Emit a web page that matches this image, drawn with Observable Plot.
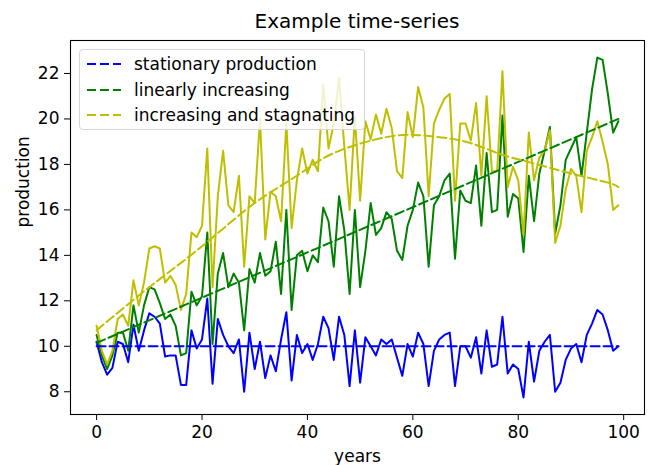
<!DOCTYPE html>
<html>
<head>
<meta charset="utf-8">
<script src="https://cdn.jsdelivr.net/npm/d3@7"></script>
<script src="https://cdn.jsdelivr.net/npm/@observablehq/plot@0.6"></script>
<style>
  body { margin: 0; background: #fff; font-family: "DejaVu Sans", sans-serif; }
  #wrap { position: relative; width: 650px; height: 465px; overflow: hidden; background: #fff; }
  #title { position: absolute; top: 9px; left: 70px; width: 574px; text-align: center; font-size: 20px; color: #000; line-height: 24px; }
  #legend { position: absolute; left: 79px; top: 49px; width: 284px; height: 79px; border: 1px solid #d6d6d6; border-radius: 4px; background: rgba(255,255,255,0.8); }
  .entry { position: absolute; left: 0; height: 20px; font-size: 17px; line-height: 20px; color: #000; white-space: nowrap; }
  .entry svg { position: absolute; left: 6px; top: 0; }
  .entry span { position: absolute; left: 54px; top: 0; }
</style>
</head>
<body>
<div id="wrap"><div id="title">Example time-series</div></div>
<script>
// ---- data ----
const seriesNames = ["stationary production", "linearly increasing", "increasing and stagnating"];
const seriesColors = ["#0000ff", "#008000", "#bfbf00"];

const stationary = [
  10.2, 9.3, 8.75, 9.05, 10.2, 10.1, 9.3, 10.95, 9.8, 10.7,
  11.45, 11.3, 11.0, 9.55, 9.6, 9.6, 8.3, 8.3, 10.7, 9.9,
  10.3, 12.1, 8.35, 11.2, 10.5, 10.0, 9.7, 10.3, 8.0, 10.6,
  9.0, 10.2, 8.6, 9.6, 8.9, 10.3, 11.5, 8.5, 10.5, 9.7,
  10.1, 9.4, 10.1, 11.3, 10.8, 9.4, 11.3, 10.5, 8.25, 10.7,
  8.4, 10.4, 10.0, 9.6, 10.3, 10.1, 10.3, 9.5, 8.7, 10.1,
  9.55, 10.6, 10.1, 8.25, 9.8, 10.3, 10.5, 10.6, 8.25, 10.0,
  10.0, 9.5, 10.4, 8.8, 10.7, 9.1, 9.2, 11.3, 8.8, 9.2,
  9.0, 7.75, 10.2, 8.45, 9.8, 10.2, 10.5, 8.0, 8.4, 9.4,
  9.9, 10.1, 9.3, 10.5, 11.0, 11.6, 11.4, 10.7, 9.8, 10.0
];
const linear = [
  10.5, 9.6, 9.0, 9.6, 10.6, 10.6, 9.8, 11.8, 10.6, 11.8,
  12.6, 12.5, 11.9, 11.2, 11.4, 10.9, 9.6, 9.7, 12.4, 11.8,
  12.2, 15.0, 10.1, 13.2, 14.1, 12.6, 13.2, 12.8, 10.7, 13.4,
  12.8, 14.1, 13.1, 13.3, 14.6, 12.3, 16.0, 11.6, 14.0, 14.2,
  13.3, 14.0, 13.7, 16.1, 15.5, 13.5, 16.6, 15.1, 12.3, 16.0,
  12.6, 14.2, 16.3, 14.9, 15.2, 15.9, 15.6, 14.2, 13.8, 15.3,
  16.0, 17.2, 16.6, 13.5, 16.2, 16.6, 17.3, 17.6, 13.85, 16.85,
  16.4, 16.3, 17.95, 15.3, 18.5, 15.9, 16.0, 20.15, 15.7, 16.7,
  16.5, 14.15, 17.5, 15.5, 17.6, 18.6, 19.65, 14.95, 16.2, 18.2,
  18.7, 19.2, 17.5, 19.4, 21.3, 22.7, 22.6, 21.1, 19.4, 19.9
];
const stagnating = [
  10.9, 9.8, 9.2, 9.8, 11.2, 11.4, 10.9, 12.9, 11.8, 12.8,
  14.3, 14.4, 14.3, 12.8, 13.1, 12.7, 11.6, 12.3, 15.0, 14.8,
  15.3, 18.7, 12.6, 16.6, 18.6, 16.2, 15.9, 17.5, 13.5, 16.6,
  16.3, 20.0, 14.7, 16.8, 16.6, 15.5, 19.8, 15.2, 17.3, 18.7,
  17.6, 18.2, 17.7, 21.5, 18.7, 19.8, 21.8, 18.8, 16.0, 20.1,
  16.4, 19.9, 19.1, 20.2, 19.35, 20.45, 19.6, 17.7, 17.4, 20.3,
  19.2, 21.4, 20.5, 16.6, 19.8, 20.4, 20.9, 21.1, 16.4, 19.8,
  19.8, 19.05, 20.7, 17.5, 21.0, 17.7, 17.7, 22.1, 17.0, 17.9,
  17.3, 14.9, 19.4, 17.3, 18.3, 18.6, 19.5, 14.55, 15.3, 16.9,
  17.8, 17.5, 15.9, 18.6, 19.2, 19.9, 19.0, 18.0, 16.0, 16.2
];

// dashed trend lines (read at a few years)
const trendStationaryYears = [0, 99];
const trendStationary = [10, 10];
const trendLinearYears = [0, 99];
const trendLinear = [10.15, 20.0];
const trendStagnatingYears = [0, 10, 20, 30, 38, 45, 55, 60, 63, 70, 76, 82, 90, 97, 99];
const trendStagnating = [10.7, 12.6, 14.4, 16.3, 17.5, 18.5, 19.2, 19.3, 19.25, 19.0, 18.5, 18.1, 17.6, 17.2, 17.0];

const xTicks = [0, 20, 40, 60, 80, 100];
const yTicks = [8, 10, 12, 14, 16, 18, 20, 22];
const xLabel = "years";
const yLabel = "production";

// ---- build ----
const observed = [stationary, linear, stagnating];
const trends = [
  [trendStationaryYears, trendStationary],
  [trendLinearYears, trendLinear],
  [trendStagnatingYears, trendStagnating]
];

const marks = [];
observed.forEach((vals, k) => {
  marks.push(Plot.line(vals.map((v, i) => ({year: i, value: v})), {
    x: "year", y: "value", stroke: seriesColors[k], strokeWidth: 2, strokeLinejoin: "round"
  }));
});
trends.forEach(([ys, vs], k) => {
  marks.push(Plot.line(ys.map((y, i) => ({year: y, value: vs[i]})), {
    x: "year", y: "value", stroke: seriesColors[k], strokeWidth: 2,
    strokeDasharray: "9,4", curve: k === 2 ? "natural" : "linear"
  }));
});

const chart = Plot.plot({
  width: 650,
  height: 465,
  marginTop: 40,
  marginBottom: 51,
  marginLeft: 70,
  marginRight: 6,
  style: {fontFamily: "DejaVu Sans", fontSize: "17px", color: "#000", background: "#fff"},
  x: {domain: [-4.95, 103.95], label: null},
  y: {domain: [7.0, 23.45], label: null},
  marks: [
    ...marks,
    Plot.frame({stroke: "#000", strokeWidth: 1.1}),
    Plot.axisX({ticks: xTicks, tickSize: 6, tickPadding: 5, label: null, fontSize: 17}),
    Plot.axisY({ticks: yTicks, tickSize: 6, tickPadding: 5, label: null, fontSize: 17}),
    Plot.text([xLabel], {text: d => d, frameAnchor: "bottom", dy: 42, fontSize: 17, lineAnchor: "middle"}),
    Plot.text([yLabel], {text: d => d, frameAnchor: "left", dx: -47, rotate: -90, fontSize: 17, lineAnchor: "middle"})
  ]
});
chart.style.position = "absolute";
chart.style.left = "0";
chart.style.top = "0";
const wrap = document.getElementById("wrap");
wrap.insertBefore(chart, wrap.firstChild);

// legend
const legend = document.createElement("div");
legend.id = "legend";
seriesNames.forEach((name, k) => {
  const e = document.createElement("div");
  e.className = "entry";
  e.style.top = (4 + k * 25.5) + "px";
  e.innerHTML = `<svg width="36" height="20"><line x1="1" x2="35" y1="10" y2="10" stroke="${seriesColors[k]}" stroke-width="2" stroke-dasharray="9,4"/></svg><span>${name}</span>`;
  legend.appendChild(e);
});
wrap.appendChild(legend);
</script>
</body>
</html>
